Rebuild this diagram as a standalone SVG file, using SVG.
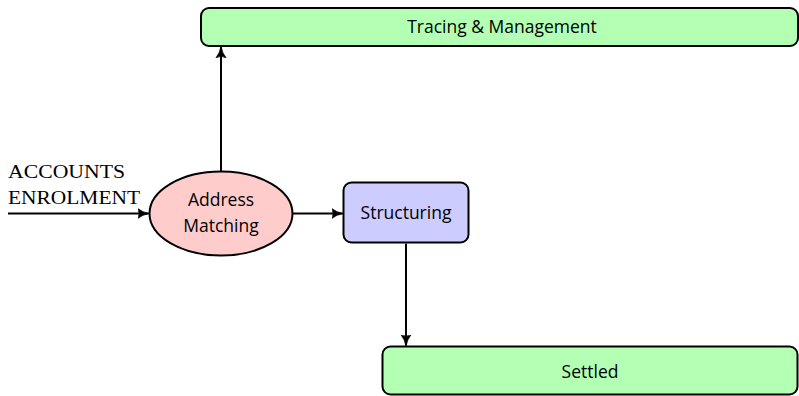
<svg xmlns="http://www.w3.org/2000/svg" width="799" height="396" viewBox="0 0 799 396">
  <style>
    .box { stroke: #000; stroke-width: 2; }
    .green { fill: #b3ffb3; }
    .blue { fill: #ccccff; }
    .red { fill: #ffcccc; }
    .lbl { font-family: "Open Sans", "DejaVu Sans", sans-serif; font-size: 17.5px; fill: #000; text-anchor: middle; }
    .in { font-family: "Liberation Serif", serif; font-size: 18px; fill: #000; }
    .edge { fill: none; stroke: #000; stroke-width: 2; marker-end: url(#head); }
  </style>
  <defs>
    <marker id="head" viewBox="0 0 10 10" refX="9" refY="5" markerWidth="12" markerHeight="12" markerUnits="userSpaceOnUse" orient="auto">
      <path d="M0,0.8 Q4,4 9.5,5 Q4,6 0,9.2 Q2.5,5 0,0.8 Z" fill="#000" stroke="#000" stroke-width="0.6" stroke-linejoin="round"/>
    </marker>
  </defs>

  <g id="tracing">
    <rect class="box green" x="201" y="8" width="597" height="38" rx="8"/>
    <text class="lbl" x="502" y="33">Tracing &amp; Management</text>
  </g>

  <g id="matching">
    <ellipse class="box red" cx="221" cy="213.5" rx="71.5" ry="42"/>
    <text class="lbl" x="221" y="206">Address</text>
    <text class="lbl" x="221" y="232">Matching</text>
  </g>

  <g id="structuring">
    <rect class="box blue" x="343.5" y="182.5" width="125" height="60" rx="8"/>
    <text class="lbl" x="406" y="219">Structuring</text>
  </g>

  <g id="settled">
    <rect class="box green" x="382.5" y="346.5" width="415" height="48" rx="8"/>
    <text class="lbl" x="590" y="377.5">Settled</text>
  </g>

  <g id="input-label">
    <text class="in" x="8" y="178" textLength="117" lengthAdjust="spacingAndGlyphs">ACCOUNTS</text>
    <text class="in" x="8" y="204" textLength="132" lengthAdjust="spacingAndGlyphs">ENROLMENT</text>
  </g>

  <g id="connectors">
    <path class="edge" d="M8,213.5 H148.5"/>
    <path class="edge" d="M221,171.5 V47"/>
    <path class="edge" d="M292.5,213.5 H342.5"/>
    <path class="edge" d="M406,243.5 V345.5"/>
  </g>
</svg>
